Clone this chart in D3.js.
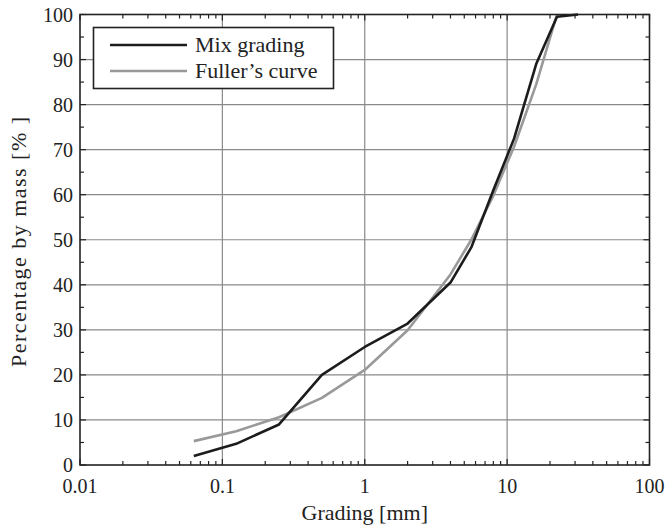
<!DOCTYPE html>
<html>
<head>
<meta charset="utf-8">
<script src="https://cdn.jsdelivr.net/npm/d3@7"></script>
<style>
  body { margin: 0; background: #fff; }
  text { font-family: "Liberation Serif", "DejaVu Serif", serif; fill: #222; }
</style>
</head>
<body>
<div id="chart"></div>
<script>
// sieve sizes in mm
var sieves = [0.063, 0.125, 0.25, 0.5, 1, 2, 4, 5.6, 8, 11.2, 16, 22.4, 31.5];
var mixGrading = [2, 4.7, 9, 20, 26.2, 31.4, 40.5, 48.3, 61, 72.5, 89, 99.5, 100];

var fullerSieves = [0.063, 0.125, 0.25, 0.5, 1, 2, 4, 5.6, 8, 11.2, 16, 22.4];
var fullerCurve = [5.3, 7.5, 10.6, 14.9, 21.1, 29.9, 42.3, 50, 59.8, 70.7, 84.5, 100];

var xTicks = [0.01, 0.1, 1, 10, 100];
var xTickLabels = ["0.01", "0.1", "1", "10", "100"];
var yTicks = [0, 10, 20, 30, 40, 50, 60, 70, 80, 90, 100];

var width = 667, height = 526;
var margin = {left: 80, right: 17.5, top: 14.5, bottom: 61};

var svg = d3.select('#chart').append('svg')
  .attr('width', width)
  .attr('height', height);

var xScale = d3.scaleLog()
  .domain([0.01, 100])
  .range([margin.left, width - margin.right]);

var yScale = d3.scaleLinear()
  .domain([0, 100])
  .range([height - margin.bottom, margin.top]);

var x0 = xScale.range()[0], x1 = xScale.range()[1];
var y0 = yScale.range()[0], y1 = yScale.range()[1];

// grid lines
svg.append('g').selectAll('line.vx')
  .data(xTicks.slice(1, -1))
  .enter().append('line')
    .attr('x1', function(d) { return xScale(d); })
    .attr('x2', function(d) { return xScale(d); })
    .attr('y1', y0).attr('y2', y1)
    .attr('stroke', '#8a8a8a').attr('stroke-width', 1.2);

svg.append('g').selectAll('line.hy')
  .data(yTicks.slice(1, -1))
  .enter().append('line')
    .attr('x1', x0).attr('x2', x1)
    .attr('y1', function(d) { return yScale(d); })
    .attr('y2', function(d) { return yScale(d); })
    .attr('stroke', '#8a8a8a').attr('stroke-width', 1.2);

// minor ticks (inward) on all four sides
var minorX = [];
for (var e = -2; e < 2; e++) {
  for (var m = 2; m <= 9; m++) minorX.push(m * Math.pow(10, e));
}
var minorY = [];
for (var v = 5; v < 100; v += 10) minorY.push(v);

var tickG = svg.append('g').attr('stroke', '#222').attr('stroke-width', 1.2);
minorX.forEach(function(d) {
  tickG.append('line').attr('x1', xScale(d)).attr('x2', xScale(d)).attr('y1', y0).attr('y2', y0 - 4);
  tickG.append('line').attr('x1', xScale(d)).attr('x2', xScale(d)).attr('y1', y1).attr('y2', y1 + 4);
});
xTicks.forEach(function(d) {
  tickG.append('line').attr('x1', xScale(d)).attr('x2', xScale(d)).attr('y1', y0).attr('y2', y0 - 6);
  tickG.append('line').attr('x1', xScale(d)).attr('x2', xScale(d)).attr('y1', y1).attr('y2', y1 + 6);
});
minorY.forEach(function(d) {
  tickG.append('line').attr('x1', x0).attr('x2', x0 + 4).attr('y1', yScale(d)).attr('y2', yScale(d));
  tickG.append('line').attr('x1', x1).attr('x2', x1 - 4).attr('y1', yScale(d)).attr('y2', yScale(d));
});
yTicks.forEach(function(d) {
  tickG.append('line').attr('x1', x0).attr('x2', x0 + 6).attr('y1', yScale(d)).attr('y2', yScale(d));
  tickG.append('line').attr('x1', x1).attr('x2', x1 - 6).attr('y1', yScale(d)).attr('y2', yScale(d));
});

// lines
var line = d3.line()
  .x(function(d) { return xScale(d[0]); })
  .y(function(d) { return yScale(d[1]); });

svg.append('path')
  .datum(d3.zip(fullerSieves, fullerCurve))
  .attr('fill', 'none')
  .attr('stroke', '#999')
  .attr('stroke-width', 2.6)
  .attr('stroke-linejoin', 'round')
  .attr('d', line);

svg.append('path')
  .datum(d3.zip(sieves, mixGrading))
  .attr('fill', 'none')
  .attr('stroke', '#1c1c1c')
  .attr('stroke-width', 2.6)
  .attr('stroke-linejoin', 'round')
  .attr('d', line);

// frame
svg.append('rect')
  .attr('x', x0).attr('y', y1)
  .attr('width', x1 - x0).attr('height', y0 - y1)
  .attr('fill', 'none')
  .attr('stroke', '#222')
  .attr('stroke-width', 1.6);

// tick labels
svg.append('g').selectAll('text')
  .data(xTicks)
  .enter().append('text')
    .attr('x', function(d) { return xScale(d); })
    .attr('y', y0 + 28)
    .attr('text-anchor', 'middle')
    .style('font-size', '20px')
    .text(function(d, i) { return xTickLabels[i]; });

svg.append('g').selectAll('text')
  .data(yTicks)
  .enter().append('text')
    .attr('x', x0 - 7)
    .attr('y', function(d) { return yScale(d) + 7; })
    .attr('text-anchor', 'end')
    .style('font-size', '20px')
    .text(function(d) { return d; });

// axis titles
svg.append('text')
  .attr('x', xScale(1))
  .attr('y', 520)
  .attr('text-anchor', 'middle')
  .style('font-size', '22px')
  .text('Grading [mm]');

svg.append('text')
  .attr('transform', 'translate(26,' + yScale(49.5) + ') rotate(-90)')
  .attr('text-anchor', 'middle')
  .style('font-size', '22px')
  .attr('textLength', 250)
  .text('Percentage by mass [% ]');

// legend
var legend = svg.append('g');
legend.append('rect')
  .attr('x', 93.5).attr('y', 27.5)
  .attr('width', 240).attr('height', 61)
  .attr('fill', '#fff')
  .attr('stroke', '#222')
  .attr('stroke-width', 1.6);

var legendItems = [['Mix grading', '#1c1c1c'], ["Fuller\u2019s curve", '#999']];
legendItems.forEach(function(d, i) {
  var y = 45 + i * 26;
  legend.append('line')
    .attr('x1', 110).attr('x2', 187)
    .attr('y1', y).attr('y2', y)
    .attr('stroke', d[1]).attr('stroke-width', 2.6);
  legend.append('text')
    .attr('x', 195).attr('y', y + 7)
    .style('font-size', '22px')
    .text(d[0]);
});
</script>
</body>
</html>
